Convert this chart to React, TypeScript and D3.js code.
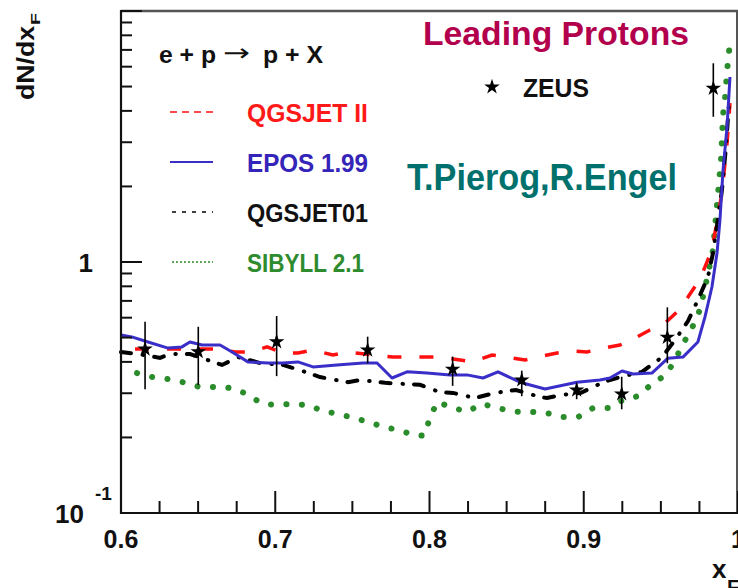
import React from 'react';
import * as d3 from 'd3';

// ---- data (x_F, dN/dx_F) ----
const eposX = [0.600,0.607,0.6175,0.6305,0.6395,0.6447,0.6525,0.6642,0.672,0.6823,0.6953,0.705,0.7147,0.7245,0.740,0.7569,0.766,0.7757,0.7854,0.7984,0.8133,0.8243,0.8347,0.8444,0.8587,0.8749,0.8956,0.9105,0.917,0.9248,0.9319,0.9442,0.9546,0.9643,0.974,0.9786,0.9831,0.9864,0.9883,0.9903,0.9929,0.9948];
const eposY = [0.512,0.503,0.480,0.454,0.459,0.480,0.467,0.467,0.438,0.400,0.396,0.396,0.400,0.382,0.389,0.396,0.396,0.345,0.365,0.361,0.355,0.355,0.345,0.365,0.332,0.312,0.332,0.339,0.345,0.368,0.358,0.361,0.414,0.418,0.480,0.604,0.795,1.086,1.470,2.325,3.451,5.46];

const qgs2X = [0.6091,0.6207,0.6305,0.6415,0.6525,0.6622,0.6739,0.6836,0.6947,0.705,0.7147,0.7245,0.7374,0.7465,0.7582,0.7763,0.7854,0.7984,0.8068,0.8198,0.8282,0.8405,0.8502,0.8619,0.8703,0.8827,0.8924,0.9021,0.9125,0.9235,0.9332,0.9429,0.9514,0.9604,0.9676,0.9754,0.9831,0.9896,0.9929,0.9948];
const qgs2Y = [0.450,0.450,0.450,0.450,0.450,0.450,0.438,0.438,0.459,0.434,0.434,0.446,0.426,0.438,0.430,0.418,0.418,0.418,0.418,0.407,0.400,0.426,0.418,0.407,0.418,0.434,0.442,0.438,0.454,0.467,0.498,0.536,0.561,0.632,0.725,0.856,1.116,1.883,2.979,4.30];

const qgs1X = [0.600,0.611,0.6253,0.6318,0.6447,0.6655,0.6759,0.6901,0.705,0.716,0.729,0.7472,0.7549,0.7712,0.7938,0.8068,0.8152,0.8295,0.8425,0.8561,0.8716,0.8762,0.8846,0.8982,0.9125,0.9235,0.9378,0.9508,0.9592,0.9676,0.974,0.9805,0.9838,0.987,0.9896,0.9922,0.9942];
const qgs1Y = [0.438,0.430,0.415,0.430,0.430,0.389,0.418,0.396,0.389,0.371,0.348,0.332,0.339,0.330,0.324,0.303,0.301,0.287,0.301,0.309,0.290,0.287,0.295,0.301,0.332,0.348,0.365,0.418,0.489,0.582,0.706,0.872,1.086,1.483,1.936,2.872,4.34];

const sibX = [0.6104,0.6201,0.6298,0.6402,0.6506,0.6603,0.6713,0.6817,0.6908,0.6998,0.7109,0.7212,0.731,0.7407,0.7511,0.7608,0.7705,0.7802,0.7893,0.7964,0.8003,0.8049,0.8139,0.8243,0.834,0.8444,0.8548,0.8658,0.8762,0.8865,0.8963,0.906,0.9164,0.9254,0.9352,0.9442,0.9533,0.9592,0.9643,0.9702,0.9747,0.9779,0.9838,0.9864,0.989,0.9903,0.9916,0.9935,0.9948];
const sibY = [0.361,0.348,0.342,0.332,0.318,0.318,0.315,0.298,0.274,0.269,0.272,0.269,0.255,0.248,0.239,0.230,0.220,0.214,0.205,0.203,0.239,0.277,0.264,0.253,0.272,0.262,0.253,0.253,0.250,0.241,0.241,0.262,0.262,0.282,0.292,0.327,0.355,0.407,0.471,0.546,0.632,0.752,1.116,1.687,2.549,3.852,4.544,6.32,7.46];

const zeusX = [0.6156,0.6501,0.7009,0.7599,0.815,0.8598,0.8954,0.9246,0.9542,0.984];
const zeusY = [0.450,0.439,0.481,0.446,0.374,0.339,0.309,0.298,0.501,4.92];
const zeusHi = [0.578,0.552,0.609,0.504,0.420,0.369,0.327,0.349,0.660,6.19];
const zeusLo = [0.311,0.324,0.351,0.395,0.321,0.292,0.284,0.259,0.395,3.79];

const xMajor = [0.6, 0.7, 0.8, 0.9, 1.0];
const xMajorLabels = ['0.6', '0.7', '0.8', '0.9', '1'];
const xMinor = [0.625,0.65,0.675,0.725,0.75,0.775,0.825,0.85,0.875,0.925,0.95,0.975];
const yMajor = [0.1, 1, 10];
const yMinor = [0.2,0.3,0.4,0.5,0.6,0.7,0.8,0.9,2,3,4,5,6,7,8,9];

const FONT = 'Liberation Sans, Arial, Helvetica, sans-serif';

const xS = d3.scaleLinear().domain([0.6, 1.0]).range([121, 738]);
const yS = d3.scaleLog().domain([0.1, 10]).range([513, 11]);

function path(xs: number[], ys: number[]): string {
  const pts: [number, number][] = xs.map((x, i) => [xS(x), yS(ys[i])]);
  return d3.line()(pts) || '';
}

const starPath = d3.symbol(d3.symbolStar, 75)() || '';

export default function App() {
  const bold = { fontFamily: FONT, fontWeight: 'bold' as const };
  return (
    <svg width={738} height={588} style={{ position: 'absolute', left: 0, top: 0, background: '#fff' }}>
      <rect x={0} y={0} width={738} height={588} fill="#fff" />

      {/* curves */}
      <path d={path(sibX, sibY)} fill="none" stroke="#2a8c2a" strokeWidth={6} strokeLinecap="round" strokeDasharray="0.1 15.4" />
      <path d={path(qgs2X, qgs2Y)} fill="none" stroke="#ff1010" strokeWidth={3.5} strokeDasharray="14 18" />
      <path d={path(qgs1X, qgs1Y)} fill="none" stroke="#000" strokeWidth={4} strokeLinecap="round" strokeDasharray="10 12 0.5 11" />
      <path d={path(eposX, eposY)} fill="none" stroke="#3a2ec8" strokeWidth={3} strokeLinejoin="round" />

      {/* ZEUS data */}
      {zeusX.map((x, i) => (
        <g key={'z' + i}>
          <line x1={xS(x)} x2={xS(x)} y1={yS(zeusHi[i])} y2={yS(zeusLo[i])} stroke="#000" strokeWidth={1.6} />
          <path d={starPath} transform={`translate(${xS(x)},${yS(zeusY[i])})`} fill="#000" />
        </g>
      ))}

      {/* frame */}
      <line x1={121} x2={738} y1={11} y2={11} stroke="#555" strokeWidth={2.5} />
      <line x1={737} x2={737} y1={11} y2={513} stroke="#555" strokeWidth={2} />
      <line x1={121} x2={121} y1={10} y2={514} stroke="#111" strokeWidth={2.2} />
      <line x1={120} x2={738} y1={513} y2={513} stroke="#111" strokeWidth={2.2} />

      {/* x ticks */}
      {xMajor.map((v) => (
        <line key={'xM' + v} x1={xS(v)} x2={xS(v)} y1={513} y2={491} stroke="#111" strokeWidth={2} />
      ))}
      {xMinor.map((v) => (
        <line key={'xm' + v} x1={xS(v)} x2={xS(v)} y1={513} y2={501} stroke="#111" strokeWidth={2} />
      ))}
      {xMajor.map((v, i) => (
        <text key={'xl' + v} x={xS(v)} y={548} textAnchor="middle" fontSize={25} {...bold} fill="#111">{xMajorLabels[i]}</text>
      ))}

      {/* y ticks */}
      {yMajor.map((v) => (
        <line key={'yM' + v} x1={121} x2={142} y1={yS(v)} y2={yS(v)} stroke="#111" strokeWidth={2} />
      ))}
      {yMinor.map((v) => (
        <line key={'ym' + v} x1={121} x2={132} y1={yS(v)} y2={yS(v)} stroke="#111" strokeWidth={2} />
      ))}
      <text x={93} y={272} textAnchor="end" fontSize={26} {...bold} fill="#111">1</text>
      <text x={84} y={523} textAnchor="end" fontSize={26} {...bold} fill="#111">10</text>
      <text x={95} y={500} fontSize={19} {...bold} fill="#111">-1</text>

      {/* axis titles */}
      <text transform="translate(34,100) rotate(-90)" fontSize={24} {...bold} fill="#111" textLength={74} lengthAdjust="spacingAndGlyphs">dN/dx</text>
      <text transform="translate(40,25) rotate(-90)" fontSize={12} {...bold} fill="#111" textLength={12} lengthAdjust="spacingAndGlyphs">F</text>
      <text x={712} y={578} fontSize={26} {...bold} fill="#111">x</text>
      <text x={727} y={594} fontSize={20} {...bold} fill="#111">F</text>

      {/* legend */}
      <text x={159} y={63} fontSize={24} {...bold} fill="#111" textLength={57} lengthAdjust="spacingAndGlyphs">e + p</text>
      <text x={223} y={61} fontSize={24} fontFamily="DejaVu Sans" fill="#111" textLength={27} lengthAdjust="spacingAndGlyphs">→</text>
      <text x={263} y={63} fontSize={24} {...bold} fill="#111" textLength={60} lengthAdjust="spacingAndGlyphs">p + X</text>

      <line x1={170} x2={213} y1={112} y2={112} stroke="#ff1010" strokeWidth={1.5} strokeDasharray="7 5" />
      <text x={247} y={122} fontSize={26} {...bold} fill="#ff1a1a" textLength={121} lengthAdjust="spacingAndGlyphs">QGSJET II</text>

      <line x1={170} x2={213} y1={162} y2={162} stroke="#3a2ec8" strokeWidth={2} />
      <text x={247} y={172} fontSize={26} {...bold} fill="#3524b8" textLength={121} lengthAdjust="spacingAndGlyphs">EPOS 1.99</text>

      <line x1={172} x2={213} y1={212} y2={212} stroke="#000" strokeWidth={1.5} strokeDasharray="4 6" />
      <text x={247} y={222} fontSize={26} {...bold} fill="#111" textLength={121} lengthAdjust="spacingAndGlyphs">QGSJET01</text>

      <line x1={172} x2={213} y1={262} y2={262} stroke="#2a8c2a" strokeWidth={1.5} strokeDasharray="2 2" />
      <text x={247} y={272} fontSize={26} {...bold} fill="#2e8b2e" textLength={117} lengthAdjust="spacingAndGlyphs">SIBYLL 2.1</text>

      <path d={starPath} transform="translate(492,87)" fill="#000" />
      <text x={523} y={97} fontSize={26} {...bold} fill="#111" textLength={66} lengthAdjust="spacingAndGlyphs">ZEUS</text>

      <text x={423} y={45} fontSize={34} {...bold} fill="#b3004d" textLength={266} lengthAdjust="spacingAndGlyphs">Leading Protons</text>
      <text x={407} y={190} fontSize={37} {...bold} fill="#00716c" textLength={270} lengthAdjust="spacingAndGlyphs">T.Pierog,R.Engel</text>
    </svg>
  );
}
